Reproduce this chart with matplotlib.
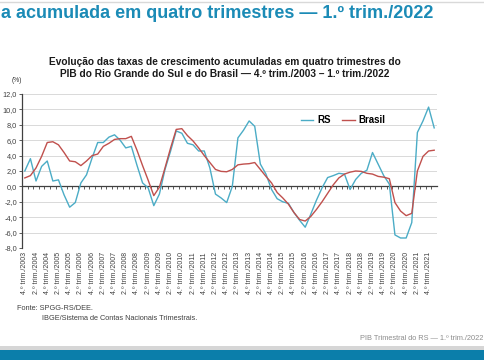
import matplotlib.pyplot as plt
import numpy as np
from matplotlib.lines import Line2D
from matplotlib.patches import Rectangle

plt.rcParams['font.family'] = ['Liberation Sans', 'DejaVu Sans']

# quarters 4.º trim./2003 .. 1.º trim./2022
quarters = []
for y in range(2003, 2023):
    for q in range(1, 5):
        if (y == 2003 and q < 4) or (y == 2022 and q > 1):
            continue
        quarters.append(f"{q}.º trim./{y}")

rs = [2.0, 3.6, 0.7, 2.6, 3.3, 0.7, 0.85, -1.1, -2.7, -2.1,
      0.45, 1.5, 3.7, 5.7, 5.7, 6.4, 6.7, 6.0, 5.0, 5.2,
      2.75, 0.45, -0.2, -2.5, -1.0, 2.2, 4.6, 7.2, 6.9, 5.6,
      5.4, 4.6, 4.6, 2.4, -1.0, -1.5, -2.1, 0.0, 6.3, 7.3,
      8.5, 7.8, 2.9, 1.6, -0.4, -1.6, -2.0, -2.2, -3.4, -4.4,
      -5.3, -3.6, -1.8, -0.2, 1.15, 1.4, 1.7, 1.6, -0.4, 0.9,
      1.7, 2.1, 4.4, 2.9, 1.4, 0.3, -6.3, -6.7, -6.7, -4.7,
      7.0, 8.5, 10.3, 7.6]

brasil = [1.1, 1.4, 2.4, 3.9, 5.7, 5.8, 5.4, 4.4, 3.3, 3.2,
          2.7, 3.3, 4.0, 4.2, 5.2, 5.6, 6.1, 6.2, 6.2, 6.5,
          4.7, 2.7, 0.8, -1.2, -0.1, 2.4, 5.0, 7.4, 7.5, 6.6,
          5.9, 5.0, 4.0, 3.1, 2.2, 1.95, 1.9, 2.2, 2.8, 2.9,
          2.95, 3.1, 2.2, 1.3, 0.45, -0.8, -1.5, -2.3, -3.4, -4.3,
          -4.5, -3.9, -3.0, -2.0, -0.9, 0.2, 1.1, 1.6, 1.85, 2.0,
          1.95, 1.7, 1.6, 1.3, 1.2, 1.0, -2.1, -3.2, -3.8, -3.5,
          2.0, 3.9, 4.6, 4.7]

yticks = [12, 10, 8, 6, 4, 2, 0, -2, -4, -6, -8]

W, H = 485, 360
fig = plt.figure(figsize=(W / 100, H / 100), dpi=100)

# slide decoration
fig.add_artist(Line2D([0, 1], [1 - 2 / H, 1 - 2 / H], color='#d9d9d9', lw=1))
fig.add_artist(Rectangle((0, 0), 1, 10 / H, color='#0b7eaa', lw=0))
fig.add_artist(Rectangle((0, 10 / H), 1, 4 / H, color='#d6d6d6', lw=0))
fig.text(433 / W, 1 - 14 / H, "a acumulada em quatro trimestres — 1.º trim./2022",
         ha='right', va='center', fontsize=13, fontweight='bold', color='#1b8bb6')
fig.text(483 / W, 1 - 338 / H, "PIB Trimestral do RS — 1.º trim./2022",
         ha='right', va='center', fontsize=5.3, color='#8c8c8c')

fig.text(225 / W, 1 - 68 / H,
         "Evolução das taxas de crescimento acumuladas em quatro trimestres do\n"
         "PIB do Rio Grande do Sul e do Brasil — 4.º trim./2003 – 1.º trim./2022",
         ha='center', va='center', fontsize=7.3, fontweight='bold', color='#1a1a1a',
         linespacing=1.25)
fig.text(12 / W, 1 - 80 / H, "(%)", ha='left', va='center', fontsize=4.8, color='#333333')
fig.text(17 / W, 1 - 309 / H, "Fonte: SPGG-RS/DEE.", ha='left', va='center',
         fontsize=5.3, color='#404040')
fig.text(42 / W, 1 - 319 / H, "IBGE/Sistema de Contas Nacionais Trimestrais.", ha='left',
         va='center', fontsize=5.3, color='#404040')

ax = fig.add_axes([22 / W, 1 - 248 / H, 415 / W, 154 / H])
x = np.arange(len(quarters))
ax.plot(x, rs, color='#4bacc6', lw=1.0, label='RS', zorder=3)
ax.plot(x, brasil, color='#c0504d', lw=1.0, label='Brasil', zorder=3)

ax.set_xlim(-0.5, len(quarters) - 0.5)
ax.set_ylim(-8, 12)
ax.set_yticks(yticks, [f"{v:.1f}".replace('.', ',') for v in yticks])
ax.grid(axis='y', color='#d9d9d9', lw=0.7)
ax.set_axisbelow(True)
ax.tick_params(axis='y', labelsize=5.3, length=2, width=0.6, pad=1.5, colors='#404040')
for s in ['top', 'right']:
    ax.spines[s].set_visible(False)
ax.spines['left'].set_color('#404040')
ax.spines['left'].set_linewidth(0.9)

# category axis crossing at zero, ticks at category boundaries
ax.spines['bottom'].set_position(('data', 0))
ax.spines['bottom'].set_color('#404040')
ax.spines['bottom'].set_linewidth(0.9)
ax.set_xticks(np.arange(0.5, len(quarters) - 0.5, 1))
ax.tick_params(axis='x', length=2, width=0.6, labelbottom=False, colors='#404040')

sec = ax.secondary_xaxis(0)
sec.set_xticks(x[::2], quarters[::2])
sec.tick_params(length=0, labelsize=5.0, labelrotation=90, pad=3, colors='#404040')
sec.spines['bottom'].set_visible(False)

ax.legend(loc='center', bbox_to_anchor=(0.774, 0.83), ncol=2, frameon=False,
          prop={'size': 7, 'weight': 'bold'}, handlelength=1.3, columnspacing=1.2,
          handletextpad=0.4)

fig.savefig("out.png", dpi=100)
